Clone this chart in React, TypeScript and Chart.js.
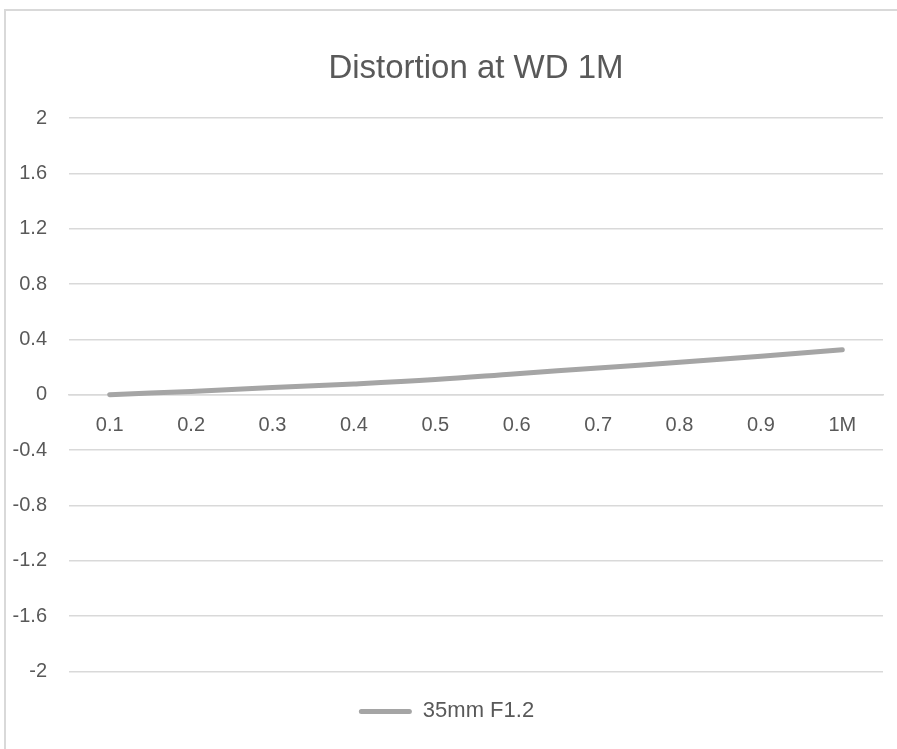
import React, { useEffect, useRef } from "react";
import { Chart, registerables } from "chart.js";

Chart.register(...registerables);

const chartTitle = "Distortion at WD 1M";
const categories = ["0.1", "0.2", "0.3", "0.4", "0.5", "0.6", "0.7", "0.8", "0.9", "1M"];
const seriesName = "35mm F1.2";
const seriesValues = [0, 0.024, 0.052, 0.078, 0.11, 0.152, 0.193, 0.234, 0.278, 0.325];
const yTickValues = [-2, -1.6, -1.2, -0.8, -0.4, 0, 0.4, 0.8, 1.2, 1.6, 2];
const yTickLabels = ["-2", "-1.6", "-1.2", "-0.8", "-0.4", "0", "0.4", "0.8", "1.2", "1.6", "2"];

const FONT = "'Liberation Sans', Arial, sans-serif";
const TEXT = "#595959";
const GRID = "#d9d9d9";
const LINE = "#a5a5a5";

export default function App() {
  const ref = useRef<HTMLCanvasElement | null>(null);

  useEffect(() => {
    if (!ref.current) return;
    const chart = new Chart(ref.current, {
      type: "line",
      data: {
        labels: categories,
        datasets: [
          {
            label: seriesName,
            data: seriesValues,
            borderColor: LINE,
            backgroundColor: LINE,
            borderWidth: 5,
            borderCapStyle: "round",
            borderJoinStyle: "round",
            pointRadius: 0,
            tension: 0.4,
            fill: false,
          },
        ],
      },
      options: {
        responsive: false,
        animation: false,
        devicePixelRatio: 1,
        layout: { padding: { left: 10, right: 14, top: 0, bottom: 16.6 } },
        plugins: {
          title: {
            display: true,
            fullSize: false,
            text: chartTitle,
            color: TEXT,
            font: { family: FONT, size: 33, weight: "normal" },
            padding: { top: 49, bottom: 29.4 },
          },
          legend: {
            display: true,
            position: "bottom",
            labels: {
              color: TEXT,
              font: { family: FONT, size: 22 },
              boxWidth: 53,
              boxHeight: 5,
              padding: 29,
              generateLabels: (c: any) =>
                c.data.datasets.map((ds: any, i: number) => ({
                  text: ds.label,
                  fillStyle: LINE,
                  strokeStyle: LINE,
                  lineWidth: 0,
                  borderRadius: 2.5,
                  fontColor: TEXT,
                  hidden: false,
                  datasetIndex: i,
                })),
            },
          },
          tooltip: { enabled: false },
        },
        scales: {
          x: {
            type: "category",
            offset: true,
            position: { y: 0 } as any,
            afterFit: (s: any) => {
              s.height = 0;
            },
            grid: { display: false, drawTicks: false },
            border: { display: true, color: GRID, width: 1.5 },
            ticks: {
              color: TEXT,
              font: { family: FONT, size: 20 },
              padding: 19,
              maxRotation: 0,
              autoSkip: false,
            },
          },
          y: {
            min: -2,
            max: 2,
            afterBuildTicks: (s: any) => {
              s.ticks = yTickValues.map((v) => ({ value: v }));
            },
            afterFit: (s: any) => {
              s.width = 59;
            },
            grid: { color: GRID, lineWidth: 1.5, drawTicks: false },
            border: { display: false },
            ticks: {
              color: TEXT,
              font: { family: FONT, size: 20 },
              padding: 22,
              callback: (_v: any, i: number) => yTickLabels[i],
            },
          },
        },
      },
    });
    return () => chart.destroy();
  }, []);

  return (
    <div style={{ position: "absolute", left: 0, top: 0, width: 897, height: 749, overflow: "hidden", background: "#fff" }}>
      <div
        style={{
          position: "absolute",
          left: 4,
          top: 9,
          width: 893,
          height: 740,
          borderLeft: "2px solid #d9d9d9",
          borderTop: "2px solid #d9d9d9",
          boxSizing: "border-box",
        }}
      />
      <canvas ref={ref} width={897} height={749} style={{ position: "absolute", left: 0, top: 0, width: 897, height: 749 }} />
    </div>
  );
}
